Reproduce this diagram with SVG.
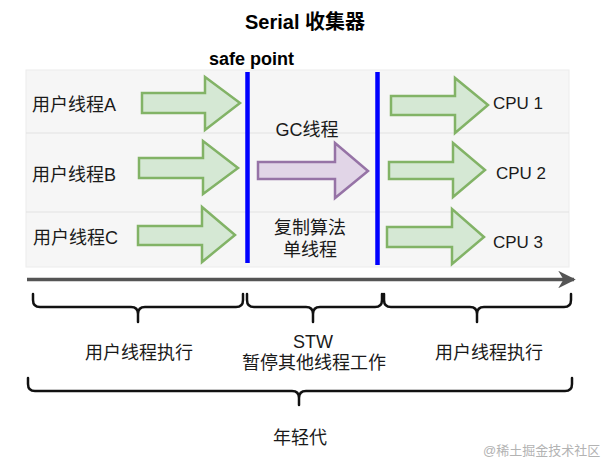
<svg xmlns="http://www.w3.org/2000/svg" width="613" height="471" viewBox="0 0 613 471">
<style>
text{font-family:"Liberation Sans","Noto Sans CJK SC",sans-serif;fill:#1a1a1a;font-size:18px}
.b{font-weight:bold;fill:#000}
.m{text-anchor:middle}
.g{fill:#d5e8d4;stroke:#82b366;stroke-width:2.5;stroke-linejoin:miter}
.p{fill:#e1d5e7;stroke:#9673a6;stroke-width:2.5}
.blue{stroke:#0000ff;stroke-width:4.5}
.br{fill:none;stroke:#111;stroke-width:2.5;stroke-linecap:round}
.wm{fill:#b3b3b3;font-size:13px}
</style>
<defs>
<marker id="ah" viewBox="0 0 10 10" refX="9" refY="5" markerWidth="5" markerHeight="5" orient="auto" markerUnits="strokeWidth">
<path d="M0,0 L10,5 L0,10 L3,5 Z" fill="#555"/>
</marker>
</defs>
<rect width="613" height="471" fill="#fff"/>
<g id="title"><text class="b m" x="305" y="29" style="font-size:20px">Serial 收集器</text></g>
<g id="panel">
<rect x="26" y="70" width="543" height="197" fill="#f6f6f6" stroke="#ececec" stroke-width="1"/>
<line x1="26" y1="133" x2="569" y2="133" stroke="#e2e2e2" stroke-width="1.2"/>
<line x1="26" y1="212" x2="569" y2="212" stroke="#e2e2e2" stroke-width="1.2"/>
</g>
<g id="safepoint"><text class="b" x="209" y="65" style="font-size:18px">safe point</text></g>
<g id="threadA"><text x="32" y="111">用户线程A</text></g>
<g id="threadB"><text x="32" y="181">用户线程B</text></g>
<g id="threadC"><text x="33" y="244">用户线程C</text></g>
<g id="gc"><text class="m" x="307" y="136">GC线程</text></g>
<g id="copy"><text class="m" x="310" y="234">复制算法</text><text class="m" x="310" y="256">单线程</text></g>
<g id="cpu1"><text x="493" y="109" style="font-size:17px">CPU 1</text></g>
<g id="cpu2"><text x="496" y="179" style="font-size:17px">CPU 2</text></g>
<g id="cpu3"><text x="493" y="248" style="font-size:17px">CPU 3</text></g>
<g id="connectors">
<polygon class="g" points="142,93 205,93 205,77 240,103 205,130 205,113 142,113"/>
<polygon class="g" points="139,158 203,158 203,141 238,168 203,194 203,178 139,178"/>
<polygon class="g" points="138,226 202,226 202,207 235,235 202,262 202,245 138,245"/>
<polygon class="p" points="258,162 335,162 335,143 368,171 335,198 335,179 258,179"/>
<polygon class="g" points="391,96 455,96 455,78 488,105 455,133 455,115 391,115"/>
<polygon class="g" points="389,162 453,162 453,143 485,170 453,197 453,179 389,179"/>
<polygon class="g" points="387,227 452,227 452,209 484,237 452,264 452,247 387,247"/>
<line class="blue" x1="247.5" y1="72" x2="247.5" y2="263"/>
<line class="blue" x1="377.5" y1="72" x2="377.5" y2="265"/>
<line x1="27" y1="279.5" x2="574" y2="279.5" stroke="#555" stroke-width="3.5" marker-end="url(#ah)"/>
<path class="br" d="M33,294 L33,300 Q33,307 40,307 L131,307 Q138,307 138,314 L138,322 M138,314 Q138,307 145,307 L236,307 Q243,307 243,300 L243,294"/>
<path class="br" d="M247,294 L247,300 Q247,307 254,307 L306,307 Q313,307 313,314 L313,322 M313,314 Q313,307 320,307 L375,307 Q382,307 382,300 L382,294"/>
<path class="br" d="M384,294 L384,300 Q384,307 391,307 L470,307 Q477,307 477,314 L477,322 M477,314 Q477,307 484,307 L564,307 Q571,307 571,300 L571,294"/>
<path class="br" d="M28,378 L28,384 Q28,391 35,391 L292,391 Q299,391 299,398 L299,405 M299,398 Q299,391 306,391 L565,391 Q572,391 572,384 L572,378"/>
</g>
<g id="exec1"><text class="m" x="139" y="359">用户线程执行</text></g>
<g id="stw"><text class="m" x="313" y="348">STW</text><text class="m" x="314" y="369">暂停其他线程工作</text></g>
<g id="exec2"><text class="m" x="489" y="359">用户线程执行</text></g>
<g id="young"><text class="m" x="300" y="444">年轻代</text></g>
<g id="watermark"><text class="wm" x="483" y="455">@稀土掘金技术社区</text></g>
</svg>
